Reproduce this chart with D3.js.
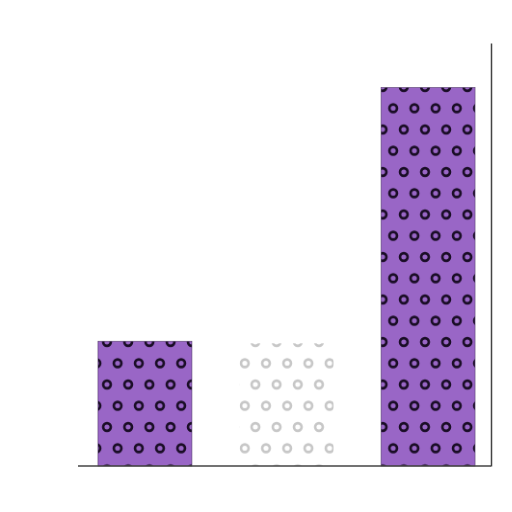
<!DOCTYPE html>
<html lang="en">
  <head>
    <meta charset="utf-8">
    <title>D3</title>
    <script src="https://d3js.org/d3.v7.min.js"></script>
    <style>
      body { margin: 0; background: #fff; }
    </style>
  </head>
  <body>
    <script>
const categories = ['A', 'B', 'C']
const values = [29.5, 29, 89.5]
const faded = [false, true, false]

const dimensions = {
  width: 512,
  height: 512,
  margin: { top: 43, right: 21, bottom: 46, left: 78 }
}

const svg = d3.select('body')
  .append('svg')
  .attr('width', dimensions.width)
  .attr('height', dimensions.height)

// bands run a little past the right spine
const xScale = d3.scaleBand()
  .domain(categories)
  .range([dimensions.margin.left, dimensions.width - 17])
  .paddingInner(0.336)
  .paddingOuter(0.141)

const yScale = d3.scaleLinear()
  .domain([0, 100])
  .range([dimensions.height - dimensions.margin.bottom, dimensions.margin.top])

// circle pattern, tiled in page space so every bar shares it
const defs = svg.append('defs')
const tileW = 21.2, tileH = 42.5
const addPattern = (id, bg, ring, opacity) => {
  const p = defs.append('pattern')
    .attr('id', id)
    .attr('patternUnits', 'userSpaceOnUse')
    .attr('x', 107).attr('y', 342)
    .attr('width', tileW).attr('height', tileH)
  if (bg) p.append('rect').attr('width', tileW).attr('height', tileH).attr('fill', bg)
  const pts = [[0, 0], [tileW, 0], [0, tileH], [tileW, tileH], [tileW / 2, tileH / 2]]
  p.selectAll('circle')
    .data(pts)
    .join('circle')
    .attr('cx', d => d[0])
    .attr('cy', d => d[1])
    .attr('r', 3.8)
    .attr('fill', 'none')
    .attr('stroke', ring)
    .attr('stroke-width', 2.6)
    .attr('opacity', opacity)
}
addPattern('dots', '#9966c6', '#1a0d26', 1)
addPattern('ghost', null, '#8f8f8f', 0.5)

svg.selectAll('rect.bar')
  .data(values)
  .join('rect')
  .classed('bar', true)
  .attr('x', (d, i) => xScale(categories[i]))
  .attr('y', d => yScale(d))
  .attr('width', xScale.bandwidth())
  .attr('height', d => yScale(0) - yScale(d))
  .attr('fill', (d, i) => faded[i] ? 'url(#ghost)' : 'url(#dots)')
  .attr('stroke', (d, i) => faded[i] ? 'none' : '#5a4470')
  .attr('stroke-width', 0.6)

const xAxis = d3.axisBottom(xScale).tickSize(0).tickFormat('')
svg.append('g')
  .attr('transform', `translate(0, ${yScale(0)})`)
  .call(xAxis)
  .call(g => g.select('.domain')
    .attr('d', `M${dimensions.margin.left},0H${dimensions.width - dimensions.margin.right}`)
    .attr('stroke', '#444').attr('stroke-width', 1.5))

const yAxis = d3.axisRight(yScale).ticks(0).tickSize(0).tickFormat('')
svg.append('g')
  .attr('transform', `translate(${dimensions.width - dimensions.margin.right}, 0)`)
  .call(yAxis)
  .call(g => g.select('.domain').attr('stroke', '#444').attr('stroke-width', 1.5))
    </script>
  </body>
</html>
